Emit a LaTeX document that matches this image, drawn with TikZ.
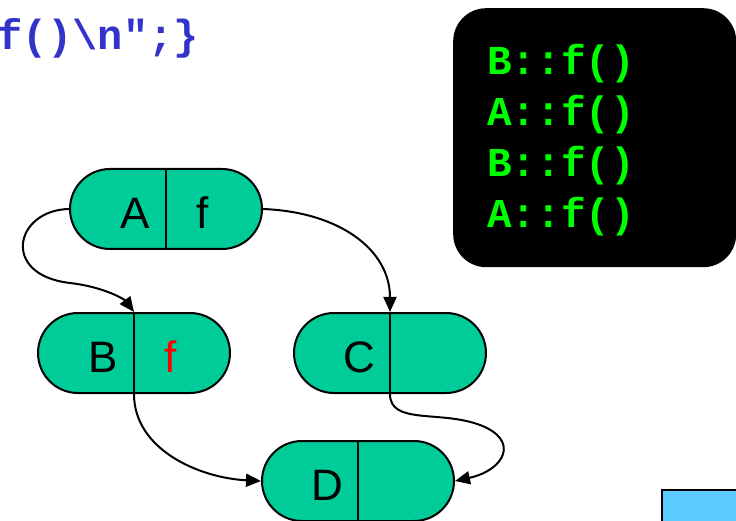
\documentclass[tikz,border=0pt]{standalone}
\usepackage{fontspec}
\setmainfont{Liberation Sans}
\newfontfamily\codefont{Liberation Mono}
\usetikzlibrary{shapes.misc,arrows.meta,calc}
\definecolor{capsulegreen}{RGB}{0,204,153}
\definecolor{codeblue}{RGB}{51,51,204}
\definecolor{termgreen}{RGB}{0,255,0}
\definecolor{boxblue}{RGB}{91,203,255}
\begin{document}
\begin{tikzpicture}[x=1pt,y=-1pt,
  capsule/.style={rounded rectangle, draw=black, line width=2pt, fill=capsulegreen,
    minimum width=192pt, minimum height=80pt, inner sep=0pt},
  divider/.style={line width=2pt},
  lbl/.style={anchor=base, inner sep=0pt, font=\fontsize{44}{44}\selectfont},
  link/.style={line width=2pt, -{Triangle[length=15pt,width=13pt]}},
  codeline/.style={anchor=base west, inner sep=0pt, font=\codefont\bfseries\fontsize{41}{41}\selectfont}]
\useasboundingbox (0,0) rectangle (736,521);

% code fragment
\node[codeline, text=codeblue, font=\codefont\bfseries\fontsize{42}{42}\selectfont] (code) at (-3,50) {f()\textbackslash n";\}};

% terminal
\node[fill=black, rounded corners=33pt, minimum width=283pt, minimum height=259pt,
  anchor=north west, inner sep=0pt] (term) at (453,8) {};
\node[codeline, text=termgreen] (l1) at (487,75) {B::f()};
\node[codeline, text=termgreen] (l2) at (487,126) {A::f()};
\node[codeline, text=termgreen] (l3) at (487,177) {B::f()};
\node[codeline, text=termgreen] (l4) at (487,228) {A::f()};

% blue box
\node[draw=black, line width=2.4pt, fill=boxblue, anchor=north west, inner sep=0pt,
  minimum width=100pt, minimum height=50pt] (bluebox) at (661,489) {};

% capsules
\node[capsule] (A) at (166,209) {};
\node[capsule] (B) at (134,353) {};
\node[capsule] (C) at (390,353) {};
\node[capsule] (D) at (358,481) {};
\foreach \n in {A,B,C,D}{\draw[divider] (\n.north) -- (\n.south);}

\node[lbl] (Al) at ($(A.center)+(-31,19.5)$) {A};
\node[lbl] (Af) at ($(A.center)+(37,19.5)$) {f};
\node[lbl] (Bl) at ($(B.center)+(-31,19.5)$) {B};
\node[lbl, text=red] (Bf) at ($(B.center)+(37,19.5)$) {f};
\node[lbl] (Cl) at ($(C.center)+(-31,19.5)$) {C};
\node[lbl] (Dl) at ($(D.center)+(-31,19.5)$) {D};

% connectors
\draw[link] (A.west) .. controls (15,210) and (0,275) .. (70,283)
  .. controls (105,287) and (125,300) .. (B.north);
\draw[link] (A.east) .. controls (340,212) and (390,250) .. (C.north);
\draw[link] (B.south) .. controls (134,450) and (200,478) .. (D.west);
\draw[link] (C.south) .. controls (390,425) and (440,410) .. (480,425)
  .. controls (520,440) and (505,470) .. (D.east);
\end{tikzpicture}
\end{document}
